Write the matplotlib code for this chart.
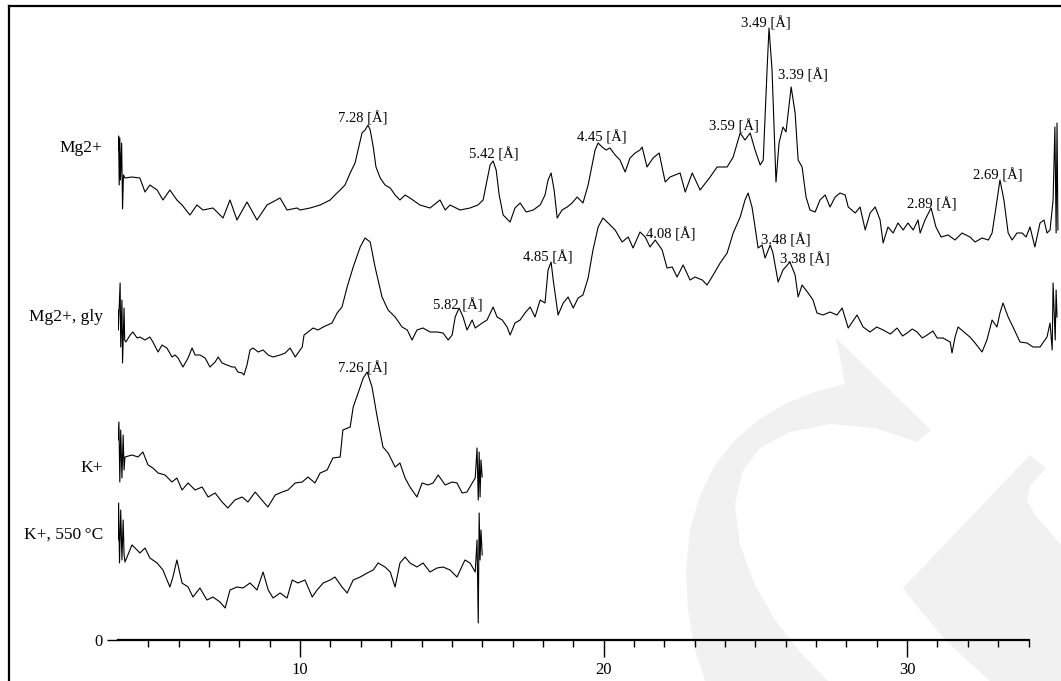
import matplotlib.pyplot as plt
from matplotlib.patches import Polygon
from matplotlib.lines import Line2D
from matplotlib.ticker import FixedLocator

plt.rcParams['font.family'] = ['Liberation Serif', 'DejaVu Serif']

# stacked XRD patterns: (2theta, intensity above the common zero line)
OFFSET = 4

mg2 = [(4.00, 486), (4.02, 500), (4.04, 451), (4.06, 498), (4.08, 456), (4.12, 493), (4.15, 427), (4.18, 461),
       (4.23, 458), (4.46, 459), (4.72, 458), (4.89, 444), (5.05, 451), (5.29, 446), (5.48, 436), (5.71, 446),
       (5.94, 436), (6.11, 431), (6.37, 421), (6.60, 431), (6.80, 426), (7.13, 428), (7.46, 418), (7.69, 436),
       (7.92, 416), (8.25, 434), (8.58, 416), (8.91, 431), (9.34, 438), (9.57, 426), (9.90, 428), (10.00, 426),
       (10.33, 428), (10.66, 431), (10.99, 436), (11.15, 441), (11.32, 446), (11.48, 451), (11.65, 463),
       (11.81, 473), (11.91, 486), (12.04, 503), (12.14, 506), (12.24, 511), (12.31, 506), (12.41, 489),
       (12.50, 469), (12.64, 458), (12.80, 451), (12.97, 448), (13.13, 441), (13.29, 436), (13.46, 441),
       (13.62, 438), (13.95, 431), (14.28, 428), (14.61, 436), (14.78, 426), (14.94, 431), (15.27, 426),
       (15.60, 428), (15.86, 431), (16.03, 436), (16.16, 456), (16.26, 471), (16.36, 475), (16.46, 466),
       (16.56, 441), (16.69, 421), (16.92, 414), (17.08, 428), (17.25, 433), (17.45, 424), (17.68, 426),
       (17.91, 431), (18.07, 441), (18.17, 456), (18.27, 463), (18.37, 446), (18.47, 418), (18.63, 426),
       (18.80, 429), (18.96, 433), (19.13, 439), (19.32, 433), (19.49, 451), (19.62, 471), (19.72, 486),
       (19.82, 493), (19.95, 489), (20.08, 486), (20.21, 488), (20.38, 481), (20.54, 476), (20.71, 464),
       (20.87, 478), (21.04, 483), (21.20, 486), (21.27, 489), (21.43, 469), (21.63, 478), (21.83, 483),
       (22.03, 454), (22.19, 459), (22.52, 463), (22.69, 444), (22.92, 463), (23.18, 446), (23.51, 459),
       (23.74, 469), (24.07, 469), (24.27, 479), (24.50, 503), (24.66, 496), (24.83, 503), (24.99, 486),
       (25.16, 471), (25.26, 476), (25.39, 569), (25.45, 608), (25.55, 566), (25.68, 454), (25.78, 493),
       (25.91, 509), (26.01, 504), (26.18, 549), (26.31, 523), (26.41, 476), (26.54, 469), (26.67, 439),
       (26.80, 426), (26.97, 424), (27.13, 436), (27.30, 441), (27.46, 429), (27.63, 439), (27.79, 443),
       (27.96, 441), (28.06, 429), (28.29, 423), (28.45, 429), (28.62, 406), (28.78, 423), (28.95, 429),
       (29.11, 416), (29.21, 393), (29.37, 409), (29.54, 403), (29.70, 413), (29.87, 406), (30.03, 413),
       (30.20, 406), (30.36, 416), (30.43, 403), (30.59, 416), (30.79, 428), (30.95, 409), (31.12, 399),
       (31.35, 401), (31.58, 396), (31.81, 403), (32.07, 399), (32.24, 394), (32.47, 398), (32.68, 396),
       (32.80, 403), (32.93, 429), (33.06, 456), (33.19, 436), (33.33, 403), (33.46, 396), (33.62, 403),
       (33.79, 403), (33.92, 399), (34.05, 409), (34.21, 389), (34.38, 413), (34.51, 416), (34.61, 403),
       (34.71, 406), (34.81, 436), (34.87, 509), (34.91, 403), (34.94, 513), (34.97, 406)]

mg2_gly = [(4.00, 326), (4.01, 306), (4.07, 353), (4.09, 289), (4.13, 336), (4.15, 273), (4.20, 328),
           (4.22, 296), (4.26, 294), (4.40, 301), (4.49, 304), (4.63, 298), (4.72, 299), (4.89, 296),
           (5.05, 299), (5.15, 294), (5.32, 284), (5.45, 291), (5.61, 288), (5.78, 279), (5.88, 281),
           (5.98, 278), (6.14, 269), (6.31, 278), (6.44, 288), (6.54, 281), (6.70, 281), (6.87, 278),
           (7.03, 269), (7.20, 274), (7.30, 279), (7.43, 273), (7.59, 271), (7.76, 269), (7.85, 269),
           (7.95, 264), (8.09, 263), (8.15, 261), (8.25, 271), (8.35, 286), (8.45, 288), (8.62, 284),
           (8.78, 286), (8.95, 281), (9.11, 279), (9.34, 281), (9.51, 283), (9.67, 288), (9.84, 279),
           (9.93, 283), (10.07, 289), (10.13, 301), (10.26, 304), (10.43, 308), (10.59, 306), (10.76, 309),
           (11.05, 313), (11.22, 323), (11.38, 329), (11.55, 349), (11.75, 369), (11.98, 389), (12.14, 398),
           (12.31, 394), (12.47, 369), (12.70, 339), (12.90, 326), (13.13, 319), (13.36, 309), (13.53, 306),
           (13.69, 296), (13.85, 306), (14.05, 308), (14.28, 304), (14.51, 304), (14.71, 303), (14.88, 296),
           (15.01, 301), (15.11, 319), (15.24, 328), (15.37, 319), (15.50, 306), (15.67, 316), (15.77, 308),
           (16.00, 313), (16.16, 316), (16.36, 329), (16.49, 319), (16.66, 316), (16.82, 309), (16.92, 301),
           (17.08, 313), (17.25, 316), (17.41, 323), (17.58, 329), (17.74, 319), (17.91, 336), (18.07, 333),
           (18.17, 366), (18.27, 374), (18.34, 356), (18.50, 321), (18.67, 333), (18.83, 339), (19.00, 328),
           (19.16, 338), (19.32, 341), (19.49, 358), (19.65, 386), (19.82, 409), (19.98, 418), (20.15, 413),
           (20.38, 406), (20.61, 394), (20.81, 399), (20.97, 388), (21.20, 404), (21.37, 399), (21.53, 389),
           (21.70, 396), (21.93, 386), (22.09, 368), (22.26, 369), (22.42, 359), (22.62, 371), (22.85, 356),
           (23.01, 359), (23.25, 356), (23.41, 351), (23.61, 361), (23.84, 373), (24.07, 383), (24.27, 403),
           (24.50, 419), (24.66, 436), (24.76, 443), (24.89, 429), (24.99, 409), (25.09, 388), (25.22, 391),
           (25.32, 378), (25.49, 391), (25.58, 383), (25.75, 354), (25.91, 366), (26.14, 374), (26.31, 361),
           (26.41, 339), (26.54, 351), (26.74, 343), (26.90, 336), (27.03, 323), (27.23, 321), (27.46, 324),
           (27.69, 321), (27.86, 328), (28.06, 308), (28.35, 321), (28.55, 309), (28.78, 304), (29.00, 309),
           (29.21, 306), (29.45, 302), (29.67, 308), (29.85, 300), (30.00, 303), (30.17, 307), (30.33, 304),
           (30.50, 298), (30.66, 301), (30.85, 305), (30.99, 298), (31.18, 298), (31.42, 294), (31.48, 283),
           (31.58, 299), (31.68, 309), (31.91, 303), (32.07, 299), (32.24, 293), (32.47, 284), (32.63, 296),
           (32.80, 316), (32.96, 309), (33.06, 323), (33.16, 333), (33.33, 319), (33.49, 309), (33.72, 294),
           (33.95, 293), (34.15, 289), (34.38, 289), (34.61, 299), (34.71, 313), (34.78, 286), (34.81, 353),
           (34.88, 296), (34.91, 346), (34.94, 319)]

k = [(4.00, 196), (4.03, 214), (4.06, 154), (4.09, 206), (4.13, 158), (4.17, 201), (4.20, 166), (4.23, 179),
     (4.46, 181), (4.66, 179), (4.82, 184), (4.99, 171), (5.15, 168), (5.32, 163), (5.55, 161), (5.78, 154),
     (5.94, 158), (6.11, 146), (6.31, 153), (6.54, 146), (6.77, 149), (6.97, 139), (7.20, 143), (7.43, 134),
     (7.62, 128), (7.85, 136), (8.09, 139), (8.28, 134), (8.52, 144), (8.74, 136), (8.94, 129), (9.18, 141),
     (9.41, 144), (9.60, 146), (9.84, 153), (10.07, 154), (10.26, 159), (10.49, 153), (10.66, 163),
     (10.89, 166), (11.08, 178), (11.32, 179), (11.41, 206), (11.65, 209), (11.75, 229), (11.98, 249),
     (12.08, 258), (12.21, 264), (12.37, 249), (12.54, 219), (12.73, 189), (12.90, 183), (13.13, 169),
     (13.29, 173), (13.46, 158), (13.62, 149), (13.85, 139), (14.02, 153), (14.22, 151), (14.38, 153),
     (14.55, 161), (14.78, 151), (15.01, 154), (15.17, 153), (15.34, 143), (15.50, 144), (15.67, 153),
     (15.77, 158), (15.83, 188), (15.87, 136), (15.90, 184), (15.93, 139), (15.96, 176), (16.00, 159)]

k_550 = [(4.00, 96), (4.02, 133), (4.05, 73), (4.09, 126), (4.13, 76), (4.17, 116), (4.20, 81), (4.23, 74),
         (4.46, 91), (4.63, 86), (4.72, 83), (4.89, 88), (5.05, 78), (5.29, 73), (5.48, 66), (5.71, 49),
         (5.81, 59), (5.94, 76), (6.11, 53), (6.31, 49), (6.47, 39), (6.70, 48), (6.93, 36), (7.13, 39),
         (7.36, 34), (7.53, 28), (7.69, 46), (7.92, 49), (8.12, 48), (8.35, 53), (8.58, 46), (8.78, 64),
         (8.95, 46), (9.11, 38), (9.34, 43), (9.57, 38), (9.74, 56), (9.93, 53), (10.16, 56), (10.40, 39),
         (10.56, 46), (10.76, 53), (10.99, 56), (11.15, 59), (11.38, 49), (11.55, 43), (11.75, 56),
         (11.98, 59), (12.21, 63), (12.41, 66), (12.57, 73), (12.80, 69), (12.97, 64), (13.13, 49),
         (13.29, 73), (13.46, 79), (13.62, 73), (13.85, 69), (14.05, 73), (14.28, 64), (14.51, 68),
         (14.71, 69), (14.94, 66), (15.17, 59), (15.43, 76), (15.60, 73), (15.77, 64), (15.83, 96),
         (15.87, 13), (15.90, 123), (15.93, 76), (15.96, 106), (16.00, 81)]

series = [mg2, mg2_gly, k, k_550]
series_names = ['Mg2+', 'Mg2+, gly', 'K+', 'K+, 550\u2009\u00b0C']
name_y = [492, 323, 172, 105]

# d-spacing labels: text, 2theta, height
peak_labels = [('7.28 [Å]', 12.08, 522), ('5.42 [Å]', 16.39, 486), ('4.45 [Å]', 19.95, 503),
               ('3.59 [Å]', 24.30, 514), ('3.49 [Å]', 25.35, 617), ('3.39 [Å]', 26.57, 565),
               ('2.89 [Å]', 30.82, 436), ('2.69 [Å]', 32.99, 465), ('5.82 [Å]', 15.21, 335),
               ('4.85 [Å]', 18.17, 383), ('4.08 [Å]', 22.22, 406), ('3.48 [Å]', 26.01, 400),
               ('3.38 [Å]', 26.64, 381), ('7.26 [Å]', 12.08, 272)]

# faint publisher logo behind the plot, figure pixel coords
watermark = [
    [(836, 338), (845, 384), (815, 392), (785, 404), (758, 420), (735, 440), (715, 465), (700, 495),
     (690, 530), (686, 570), (688, 610), (695, 650), (705, 681), (828, 681), (800, 652), (775, 620),
     (755, 585), (740, 545), (735, 505), (742, 472), (760, 448), (790, 432), (830, 424), (875, 428),
     (917, 442), (931, 430)],
    [(1030, 455), (1046, 468), (1030, 486), (1027, 500), (1035, 515), (1061, 545), (1061, 681),
     (990, 681), (945, 640), (912, 600), (903, 588)],
]

W, H = 1061, 681
fig = plt.figure(figsize=(W / 100, H / 100), dpi=100)

bg = fig.add_axes([0, 0, 1, 1], zorder=0)
bg.set_xlim(0, W)
bg.set_ylim(H, 0)
bg.axis('off')
for poly in watermark:
    bg.add_patch(Polygon(poly, closed=True, fc='#f1f1f1', ec='none'))

px_per_deg = 30.35
ax = fig.add_axes([118 / W, 41 / H, (W - 118) / W, 640 / H], zorder=1)
ax.patch.set_alpha(0)
ax.set_xlim(4, 4 + (W - 118) / px_per_deg)
ax.set_ylim(0, 640)

for s in series:
    xs = [p[0] for p in s]
    ys = [p[1] + OFFSET for p in s]
    ax.plot(xs, ys, color='black', lw=0.8)

for name, yy in zip(series_names, name_y):
    ax.text(3.5, yy, name, ha='right', va='center', fontsize=12.5, clip_on=False)

for txt, xx, yy in peak_labels:
    ax.text(xx, yy, txt, ha='center', va='center', fontsize=10.5)

for side in ['left', 'top', 'right']:
    ax.spines[side].set_visible(False)
ax.spines['bottom'].set_bounds(4, 34)
ax.spines['bottom'].set_linewidth(1.6)

ax.xaxis.set_major_locator(FixedLocator([10, 20, 30]))
ax.xaxis.set_minor_locator(FixedLocator([v for v in range(5, 35) if v % 10]))
ax.set_xticklabels(['10', '20', '30'])
ax.tick_params(axis='x', which='major', length=12, width=1, labelsize=12, pad=4)
ax.tick_params(axis='x', which='minor', length=5, width=1)
ax.set_yticks([0])
ax.set_yticklabels(['0'])
ax.tick_params(axis='y', length=8, width=1, labelsize=12, pad=3)

# frame of the original figure (top and left edges visible)
fig.add_artist(Line2D([9 / W, 9 / W], [0, 1 - 6 / H], color='black', lw=1.6))
fig.add_artist(Line2D([9 / W, 1], [1 - 6 / H, 1 - 6 / H], color='black', lw=1.6))

fig.savefig('out.png', dpi=100)
